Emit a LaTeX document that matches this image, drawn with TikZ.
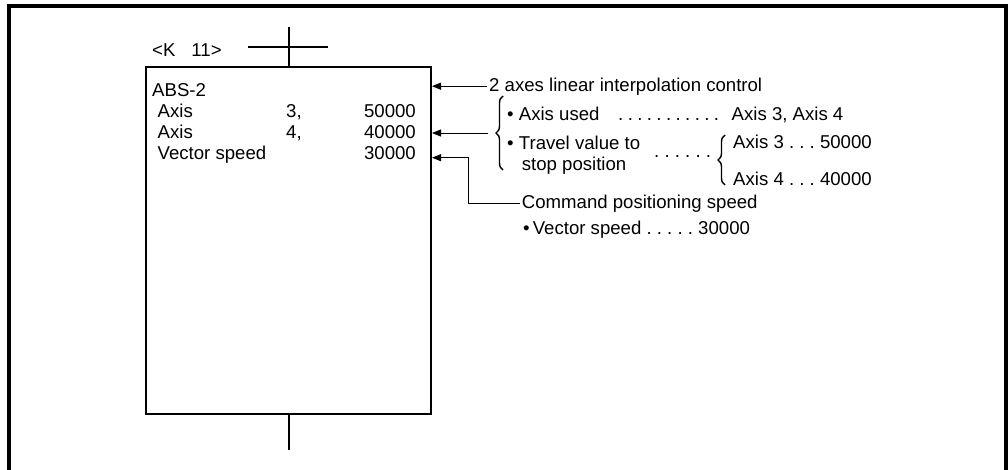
\documentclass[tikz,border=0pt]{standalone}
\usepackage{fontspec}
\setmainfont{Liberation Sans}
\usepackage{tikz}
\usetikzlibrary{
  arrows.meta,
  positioning,
  decorations.pathreplacing,
}

\begin{document}
\frenchspacing
\begin{tikzpicture}[
  x=1pt, y=-1pt,
  font=\fontsize{18.6}{22}\selectfont,
  txt/.style={anchor=base west, inner sep=0pt},
  num/.style={anchor=base east, inner sep=0pt},
  block/.style={draw=black, line width=2pt, inner sep=0pt,
                minimum width=285pt, minimum height=347pt},
  rung/.style={line width=2pt},
  arrow/.style={-{Triangle[length=9pt, width=7pt]}, line width=0.9pt},
  bracel/.style={decorate, decoration={brace, amplitude=7pt}, line width=1.4pt},
]

\useasboundingbox (0,0) rectangle (1008,469);
\draw[line width=3.6pt] (9.2,475) -- (9.2,5.8) -- (1006.2,5.8) -- (1006.2,475);

% step block and its rung
\node[block] (absbox) at (288.5,240.5) {};
\coordinate (railtop) at (288.5,27);
\coordinate (railbot) at (288.5,450);
\coordinate (barL) at (248,47);
\coordinate (barR) at (328,47);
\draw[rung] (absbox.north) -- (railtop);
\draw[rung] (barL) -- (barR);
\draw[rung] (absbox.south) -- (railbot);

\node[txt] (stepno) at (152,56) {<K\hspace{16pt}11>};
\node[txt] (abs) at (152,96) {ABS-2};
\node[txt] (axA) at (157.5,117) {Axis};
\node[txt] (axAn) at (286,117) {3,};
\node[num] (axAv) at (416,117) {50000};
\node[txt] (axB) at (157.5,138) {Axis};
\node[txt] (axBn) at (286,138) {4,};
\node[num] (axBv) at (416,138) {40000};
\node[txt] (vec) at (157.5,159.5) {Vector speed};
\node[num] (vecv) at (416,159.5) {30000};

% explanations
\node[txt] (interp) at (489,91) {2 axes linear interpolation control};
\draw[arrow] ([xshift=-2pt]interp.west) -- (interp.west -| absbox.east);

\coordinate (brAbot) at (503,170);
\coordinate (brAtop) at (503,96);
\draw[bracel] (brAbot) -- (brAtop);
\coordinate (brAtip) at (488,133);
\draw[arrow] (brAtip) -- (brAtip -| absbox.east);

\node[txt] (used) at (507,120) {\textbullet~Axis used};
\node[txt] (useddots) at (618,120) {\spaceskip=4.4pt\xspaceskip=4.4pt . . . . . . . . . . .};
\node[txt] (usedaxes) at (731.5,120) {Axis 3, Axis 4};
\node[txt] (travel) at (507,149) {\textbullet~Travel value to};
\node[txt] (stoppos) at (521.7,170) {stop position};
\node[txt] (traveldots) at (654,157) {. . . . . .};

\coordinate (brBbot) at (725,185);
\coordinate (brBtop) at (725,135);
\draw[bracel] (brBbot) -- (brBtop);
\node[txt] (axCv) at (733,148.5) {Axis 3 . . . 50000};
\node[txt] (axDv) at (733,185) {Axis 4 . . . 40000};

\node[txt] (cmd) at (521.7,208) {Command positioning speed};
\coordinate (cmdbend) at (468,157.7);
\draw[arrow] ([xshift=-2pt]cmd.west) -| (cmdbend) -- (cmdbend -| absbox.east);
\node[txt] (vspeed) at (523,234) {\textbullet\,Vector speed . . . . . 30000};

\end{tikzpicture}
\end{document}
